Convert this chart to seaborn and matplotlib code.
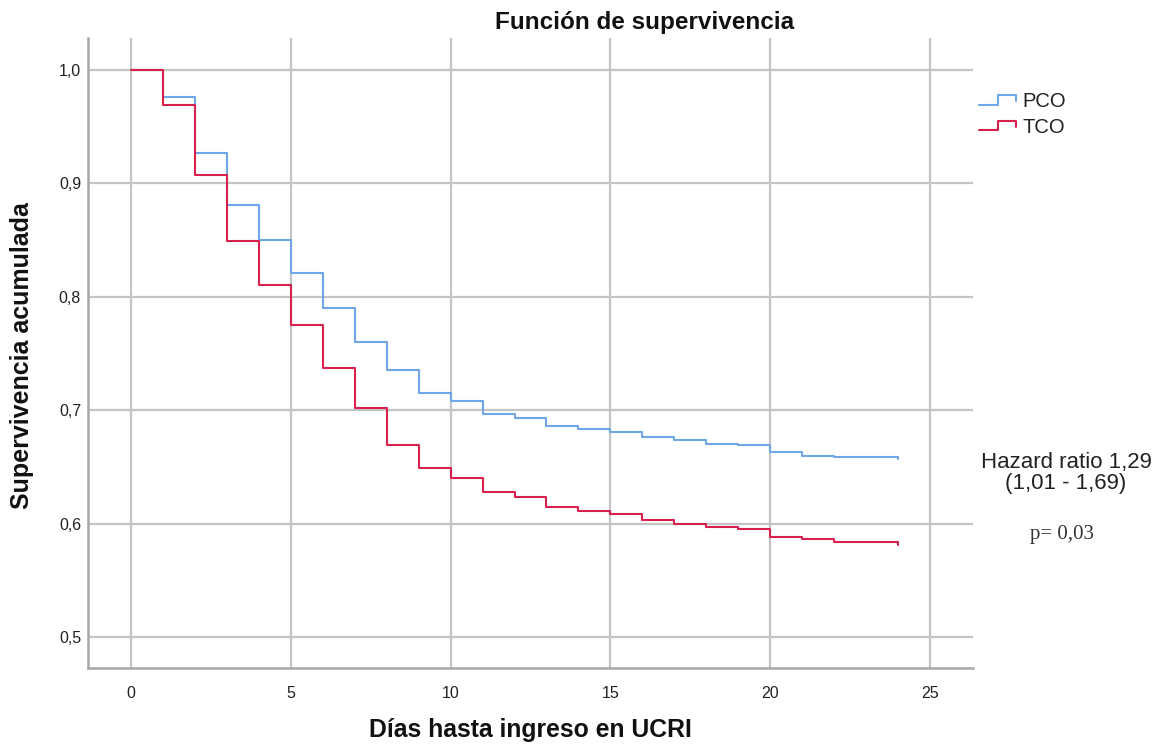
import matplotlib
matplotlib.use("Agg")
import matplotlib.pyplot as plt
import seaborn as sns
import pandas as pd
import numpy as np
from matplotlib.legend_handler import HandlerBase
from matplotlib.lines import Line2D

# ---- data ----
days = list(range(0, 25))
pco_surv = [1.000, 0.976, 0.927, 0.881, 0.850, 0.821, 0.790, 0.760, 0.735, 0.715,
            0.708, 0.697, 0.693, 0.686, 0.683, 0.681, 0.676, 0.674, 0.670, 0.669,
            0.663, 0.660, 0.659, 0.659, 0.659]
tco_surv = [1.000, 0.969, 0.907, 0.849, 0.810, 0.775, 0.737, 0.702, 0.669, 0.649,
            0.640, 0.628, 0.623, 0.615, 0.611, 0.608, 0.603, 0.600, 0.597, 0.595,
            0.588, 0.586, 0.584, 0.584, 0.584]
pco_end = 0.657
tco_end = 0.581
groups = ["PCO", "TCO"]
colors = {"PCO": "#6ea6e8", "TCO": "#d8204c"}

x_ticks = [0, 5, 10, 15, 20, 25]
y_ticks = [0.5, 0.6, 0.7, 0.8, 0.9, 1.0]
y_ticklabels = ["0,5", "0,6", "0,7", "0,8", "0,9", "1,0"]

rows = []
for g, surv, end in [("PCO", pco_surv, pco_end), ("TCO", tco_surv, tco_end)]:
    for d, s in zip(days, surv):
        rows.append({"dias": d, "surv": s, "grupo": g})
    rows.append({"dias": days[-1], "surv": end, "grupo": g})
df = pd.DataFrame(rows)

sns.set_style("white")
plt.rcParams["font.family"] = ["Liberation Sans", "DejaVu Sans"]

fig = plt.figure(figsize=(11.61, 7.47), dpi=100)
ax = fig.add_axes([88 / 1161, 1 - 668 / 747, (973 - 88) / 1161, (668 - 38) / 747])

sns.lineplot(data=df, x="dias", y="surv", hue="grupo", palette=colors,
             estimator=None, sort=False, drawstyle="steps-post",
             linewidth=1.5, ax=ax, legend=False)

ax.set_xlim(-1.35, 26.35)
ax.set_ylim(0.4727, 1.028)
ax.set_xticks(x_ticks)
ax.set_xticklabels([str(t) for t in x_ticks])
ax.set_yticks(y_ticks)
ax.set_yticklabels(y_ticklabels)
ax.grid(True, color="#c4c4c4", linewidth=1.6)
ax.set_axisbelow(True)
for s in ["top", "right"]:
    ax.spines[s].set_visible(False)
for s in ["left", "bottom"]:
    ax.spines[s].set_color("#a8a8a8")
    ax.spines[s].set_linewidth(1.8)
ax.tick_params(axis="both", length=0, labelsize=11.5, colors="#222222")
ax.tick_params(axis="x", pad=13)
ax.tick_params(axis="y", pad=5)
ax.set_xlabel("")
ax.set_ylabel("")

fig.text(645 / 1161, 1 - 22 / 747, "Función de supervivencia", ha="center", va="center",
         fontsize=17.5, fontweight="bold", color="#111111")
fig.text(530 / 1161, 1 - 730 / 747, "Días hasta ingreso en UCRI", ha="center", va="center",
         fontsize=17.8, fontweight="bold", color="#111111")
fig.text(22 / 1161, 1 - 356 / 747, "Supervivencia acumulada", ha="center", va="center",
         rotation=90, fontsize=18, fontweight="bold", color="#111111")


class StepHandler(HandlerBase):
    def create_artists(self, legend, orig_handle, xdescent, ydescent, width, height, fontsize, trans):
        xs = np.array([0, 0.5, 0.5, 1.0, 1.0]) * width - xdescent
        ys = np.array([0.15, 0.15, 0.85, 0.85, 0.4]) * height - ydescent
        line = Line2D(xs, ys, color=orig_handle.get_color(), linewidth=1.5)
        line.set_transform(trans)
        return [line]


handles = [Line2D([0], [0], color=colors[g]) for g in groups]
leg = fig.legend(handles, groups, loc="upper left", bbox_to_anchor=(969 / 1161, 1 - 82 / 747),
                 frameon=False, handler_map={Line2D: StepHandler()}, fontsize=14.5,
                 handlelength=1.85, handletextpad=0.3, labelspacing=0.32, borderpad=0)
for t in leg.get_texts():
    t.set_color("#222222")

fig.text(1066 / 1161, 1 - 473 / 747, "Hazard ratio 1,29\n(1,01 - 1,69)", ha="center", va="center",
         fontsize=16, color="#222222", linespacing=0.95)
fig.text(1062 / 1161, 1 - 535 / 747, "p= 0,03", ha="center", va="center",
         fontsize=15, color="#333333", family=["Liberation Serif", "DejaVu Serif"])

fig.savefig("out.png", dpi=100)
